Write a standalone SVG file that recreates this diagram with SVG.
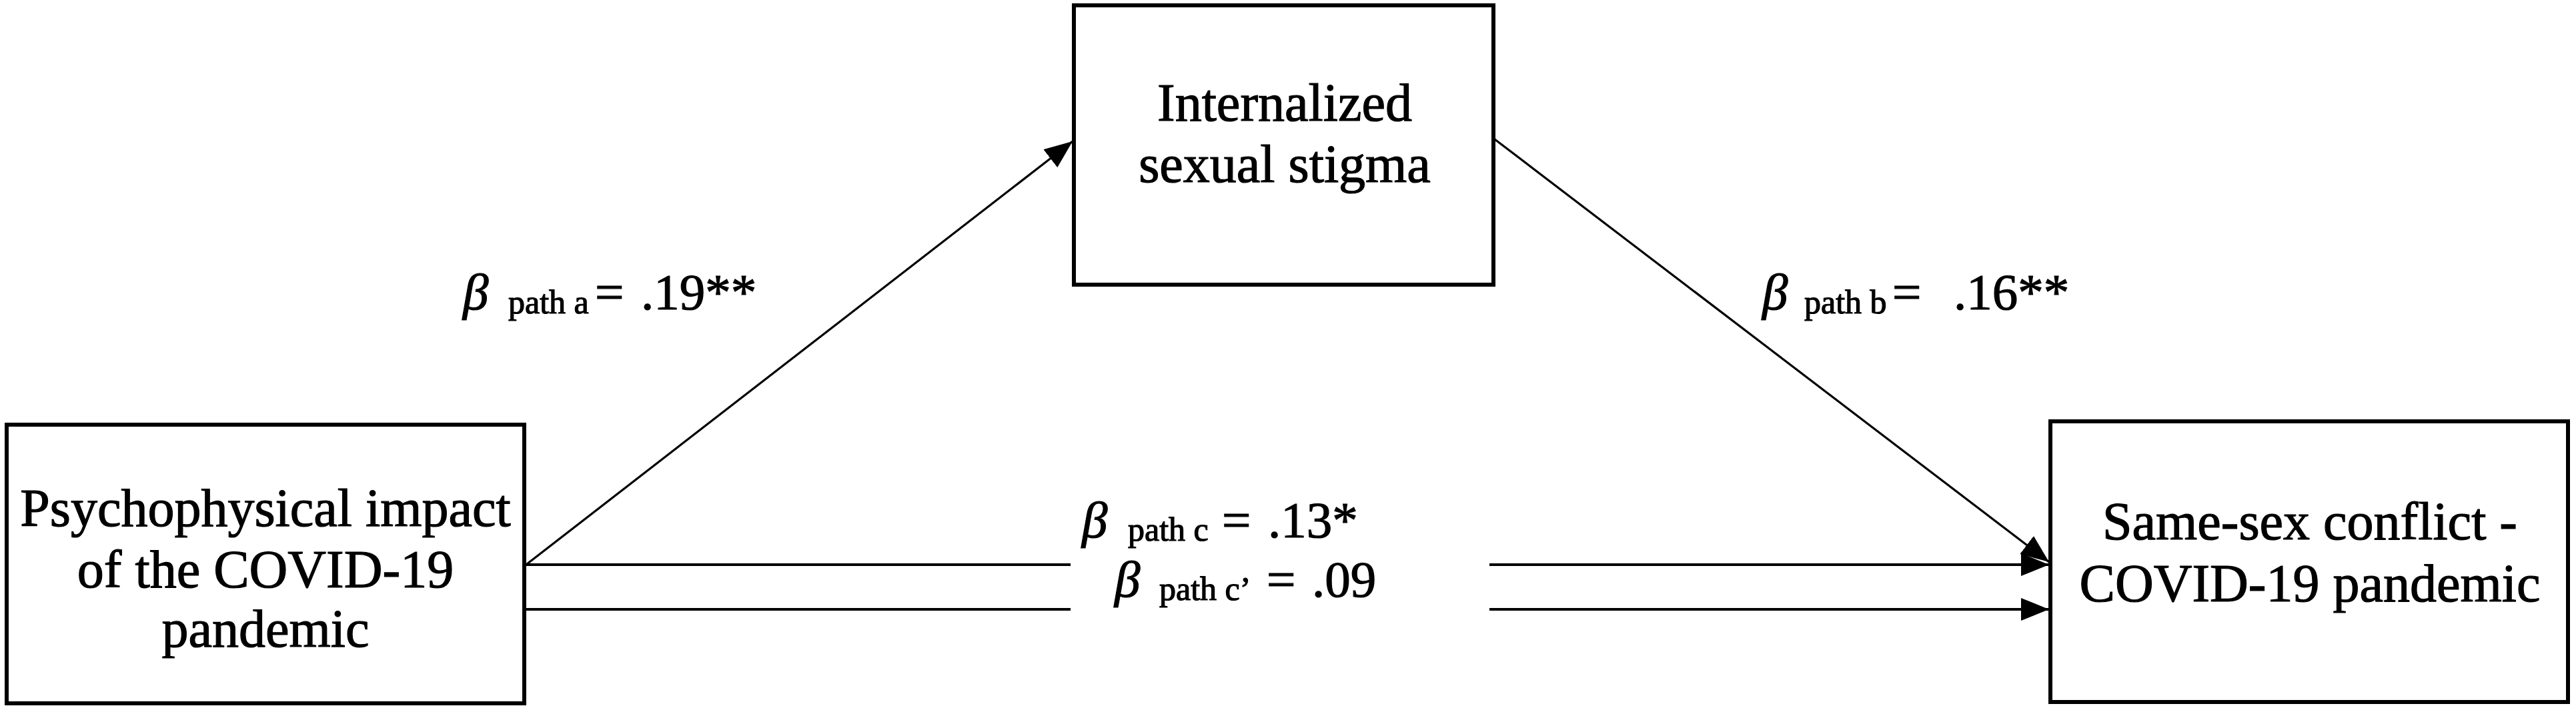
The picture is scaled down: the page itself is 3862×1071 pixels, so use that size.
<svg xmlns="http://www.w3.org/2000/svg" width="3862" height="1071" viewBox="0 0 3862 1071">
<style>
.box{fill:#fff;stroke:#000;stroke-width:6}
.conn line{stroke:#000;stroke-width:4;fill:none}
.conn .diag{stroke-width:3.2}
text{stroke:#000;stroke-width:1.2}
</style>
<defs>
<marker id="ah" markerUnits="userSpaceOnUse" markerWidth="44" markerHeight="36" viewBox="0 0 44 36" refX="42" refY="17" orient="auto">
<path d="M0,0 L42,17 L0,34 z" fill="#000"/>
</marker>
</defs>
<rect x="0" y="0" width="3862" height="1071" fill="#fff"/>

<g id="connectors" class="conn">
<line class="diag" x1="790" y1="846" x2="1608" y2="212" marker-end="url(#ah)"/>
<line class="diag" x1="2241" y1="209" x2="3072" y2="843" marker-end="url(#ah)"/>
<line x1="786" y1="847" x2="1605" y2="847"/>
<line x1="2233" y1="847" x2="3072" y2="847" marker-end="url(#ah)"/>
<line x1="786" y1="914" x2="1605" y2="914"/>
<line x1="2233" y1="914" x2="3072" y2="914" marker-end="url(#ah)"/>
</g>

<g id="node-psychophysical" font-family="'Liberation Serif', 'Times New Roman', 'DejaVu Serif', serif" font-size="80" text-anchor="middle" fill="#000">
<rect class="box" x="10" y="637" width="776" height="418"/>
<text x="398" y="789">Psychophysical impact</text>
<text x="398" y="881">of the COVID-19</text>
<text x="398" y="970">pandemic</text>
</g>

<g id="node-stigma" font-family="'Liberation Serif', 'Times New Roman', 'DejaVu Serif', serif" font-size="80" text-anchor="middle" fill="#000">
<rect class="box" x="1610" y="8" width="629" height="419"/>
<text x="1926" y="181">Internalized</text>
<text x="1926" y="273">sexual stigma</text>
</g>

<g id="node-conflict" font-family="'Liberation Serif', 'Times New Roman', 'DejaVu Serif', serif" font-size="80" text-anchor="middle" fill="#000">
<rect class="box" x="3074" y="632" width="776" height="421"/>
<text x="3463" y="809">Same-sex conflict -</text>
<text x="3463" y="902">COVID-19 pandemic</text>
</g>

<g id="labels" font-family="'Liberation Serif', 'Times New Roman', 'DejaVu Serif', serif" font-size="77" fill="#000">
<text y="464"><tspan font-style="italic" x="694">β</tspan><tspan font-size="50" x="762" y="470">path a</tspan><tspan x="892" y="464">=</tspan><tspan x="961">.19**</tspan></text>
<text y="464"><tspan font-style="italic" x="2642">β</tspan><tspan font-size="50" x="2705" y="470">path b</tspan><tspan x="2837" y="464">=</tspan><tspan x="2929">.16**</tspan></text>
<text y="806"><tspan font-style="italic" x="1622">β</tspan><tspan font-size="50" x="1691" y="811">path c</tspan><tspan x="1832" y="806">=</tspan><tspan x="1901">.13*</tspan></text>
<text y="895"><tspan font-style="italic" x="1671">β</tspan><tspan font-size="50" x="1738" y="900">path c’</tspan><tspan x="1899" y="895">=</tspan><tspan x="1967">.09</tspan></text>
</g>
</svg>
